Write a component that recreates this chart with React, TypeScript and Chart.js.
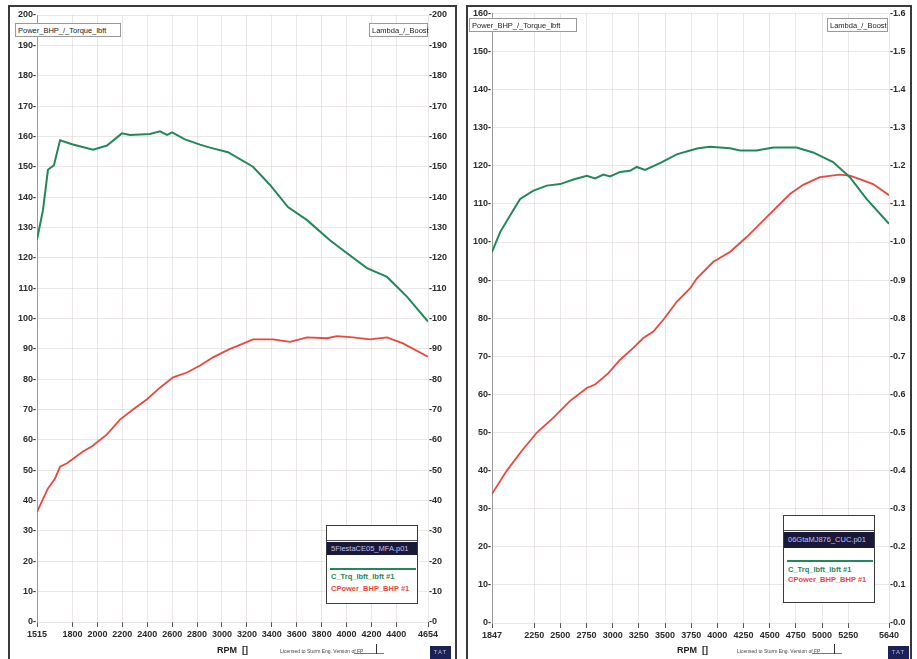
import React, { useEffect, useRef } from "react";
import { Chart, registerables } from "chart.js";
Chart.register(...registerables);

const FONT = "'Liberation Sans', Arial, sans-serif";
const GREEN = "#22885a";
const RED = "#e8483f";
const GRID = "rgba(195,180,180,0.32)";
const TXT = "#2a2a2a";

// ---------- Left chart (Fiesta) ----------
const leftXTicks = [1515, 1800, 2000, 2200, 2400, 2600, 2800, 3000, 3200, 3400, 3600, 3800, 4000, 4200, 4400, 4654];
const leftYTicks = [0, 10, 20, 30, 40, 50, 60, 70, 80, 90, 100, 110, 120, 130, 140, 150, 160, 170, 180, 190, 200];
const leftYLabels = ["0", "10", "20", "30", "40", "50", "60", "70", "80", "90", "100", "110", "120", "130", "140", "150", "160", "170", "180", "190", "200"];
const leftRightLabels = ["0", "10", "20", "30", "40", "50", "60", "70", "80", "90", "100", "110", "120", "130", "140", "150", "160", "170", "180", "190", "200"];
const leftTorqueRpm = [1515, 1563, 1603, 1651, 1700, 1796, 1965, 2077, 2197, 2262, 2422, 2502, 2559, 2599, 2703, 2824, 2904, 3048, 3249, 3386, 3530, 3683, 3867, 4004, 4164, 4325, 4485, 4654];
const leftTorque = [126, 135.7, 149, 150.5, 158.7, 157.4, 155.6, 157, 161, 160.5, 160.8, 161.7, 160.5, 161.3, 159, 157.3, 156.3, 154.8, 150, 144, 136.7, 132.4, 125.8, 121.5, 116.6, 113.7, 107.2, 99];
const leftPowerRpm = [1515, 1603, 1660, 1700, 1756, 1884, 1957, 2077, 2181, 2286, 2398, 2502, 2607, 2719, 2824, 2928, 3064, 3121, 3249, 3410, 3546, 3683, 3843, 3923, 4052, 4188, 4325, 4453, 4654];
const leftPower = [36.3, 44, 47.3, 51.2, 52.3, 56.2, 57.9, 61.8, 66.7, 70, 73.4, 77.2, 80.6, 82.2, 84.5, 87.2, 90, 90.9, 93.1, 93.1, 92.3, 93.8, 93.5, 94.2, 93.8, 93.1, 93.8, 91.8, 87.4];

// ---------- Right chart ----------
const rightXTicks = [1847, 2250, 2500, 2750, 3000, 3250, 3500, 3750, 4000, 4250, 4500, 4750, 5000, 5250, 5640];
const rightYTicks = [0, 10, 20, 30, 40, 50, 60, 70, 80, 90, 100, 110, 120, 130, 140, 150, 160];
const rightYLabels = ["0", "10", "20", "30", "40", "50", "60", "70", "80", "90", "100", "110", "120", "130", "140", "150", "160"];
const rightRightLabels = ["0.0", "0.1", "0.2", "0.3", "0.4", "0.5", "0.6", "0.7", "0.8", "0.9", "1.0", "1.1", "1.2", "1.3", "1.4", "1.5", "1.6"];
const rightTorqueRpm = [1847, 1925, 2021, 2116, 2243, 2371, 2498, 2625, 2753, 2832, 2911, 2975, 3071, 3166, 3230, 3309, 3452, 3612, 3739, 3818, 3930, 4120, 4216, 4375, 4534, 4757, 4915, 5106, 5266, 5425, 5640];
const rightTorque = [97.4, 102.6, 107, 111.3, 113.5, 114.8, 115.2, 116.4, 117.4, 116.7, 117.7, 117.2, 118.4, 118.7, 119.7, 118.9, 120.7, 123, 124, 124.6, 125, 124.6, 124, 124, 124.8, 124.8, 123.5, 121, 117, 111.3, 104.8];
const rightPowerRpm = [1847, 1989, 2132, 2276, 2434, 2593, 2753, 2832, 2959, 3071, 3197, 3293, 3388, 3484, 3612, 3739, 3803, 3961, 4120, 4280, 4471, 4693, 4820, 4979, 5170, 5266, 5361, 5488, 5640];
const rightPower = [33.9, 40, 45.2, 50, 53.9, 58.3, 61.7, 62.6, 65.6, 69.1, 72.2, 74.8, 76.5, 79.6, 84.3, 87.8, 90.4, 94.8, 97.4, 101.3, 106.5, 112.6, 115, 117, 117.7, 117.4, 116.5, 115.2, 112.3];

type PanelCfg = {
  xTicks: number[];
  yTicks: number[];
  yLabels: string[];
  rLabels: string[];
  yMax: number;
  tRpm: number[];
  t: number[];
  pRpm: number[];
  p: number[];
  padTop: number;
  xAxisH: number;
  leftW: number;
  rightW: number;
  width: number;
  height: number;
};

function makeConfig(c: PanelCfg): any {
  const font = { family: FONT, size: 9, weight: "bold" as const };
  return {
    type: "line",
    data: {
      datasets: [
        {
          label: "C_Trq_lbft_lbft #1",
          data: c.tRpm.map((x, i) => ({ x, y: c.t[i] })),
          borderColor: GREEN,
          borderWidth: 2,
          pointRadius: 0,
          tension: 0,
          yAxisID: "y",
        },
        {
          label: "CPower_BHP_BHP #1",
          data: c.pRpm.map((x, i) => ({ x, y: c.p[i] })),
          borderColor: RED,
          borderWidth: 1.8,
          pointRadius: 0,
          tension: 0,
          yAxisID: "y",
        },
      ],
    },
    options: {
      responsive: false,
      animation: false,
      devicePixelRatio: 1,
      layout: { padding: { top: c.padTop, left: 0, right: 0, bottom: 0 } },
      plugins: { legend: { display: false }, tooltip: { enabled: false }, title: { display: false } },
      scales: {
        x: {
          type: "linear",
          min: c.xTicks[0],
          max: c.xTicks[c.xTicks.length - 1],
          afterBuildTicks: (s: any) => {
            s.ticks = c.xTicks.map((v) => ({ value: v }));
          },
          afterFit: (s: any) => {
            s.height = c.xAxisH;
          },
          ticks: { autoSkip: false, maxRotation: 0, padding: 2, font, color: TXT, callback: (v: any) => String(v) },
          grid: { color: GRID, drawTicks: true, tickLength: 5, tickColor: "#555", tickWidth: 1 },
          border: { display: false },
        },
        y: {
          position: "left",
          min: 0,
          max: c.yMax,
          afterBuildTicks: (s: any) => {
            s.ticks = c.yTicks.map((v) => ({ value: v }));
          },
          afterFit: (s: any) => {
            s.width = c.leftW;
          },
          ticks: {
            padding: 1,
            font,
            color: TXT,
            callback: (v: any, i: number) => c.yLabels[i] + "-",
          },
          grid: { color: GRID, drawTicks: false },
          border: { display: true, color: "#9a9a9a", width: 1 },
        },
        y1: {
          position: "right",
          min: 0,
          max: c.yMax,
          afterBuildTicks: (s: any) => {
            s.ticks = c.yTicks.map((v) => ({ value: v }));
          },
          afterFit: (s: any) => {
            s.width = c.rightW;
          },
          ticks: {
            padding: 1,
            font,
            color: TXT,
            callback: (v: any, i: number) => "-" + c.rLabels[i],
          },
          grid: { display: false, drawTicks: false },
          border: { display: false },
        },
      },
    },
  };
}

function ChartCanvas(props: { cfg: PanelCfg; left: number; top: number }) {
  const ref = useRef<HTMLCanvasElement | null>(null);
  useEffect(() => {
    if (!ref.current) return;
    const ch = new Chart(ref.current, makeConfig(props.cfg));
    return () => ch.destroy();
  }, []);
  return (
    <canvas
      ref={ref}
      width={props.cfg.width}
      height={props.cfg.height}
      style={{ position: "absolute", left: props.left, top: props.top, width: props.cfg.width, height: props.cfg.height }}
    />
  );
}

const abs = (o: React.CSSProperties): React.CSSProperties => ({ position: "absolute", ...o });

function HeaderBox(props: { left: number; top: number; width: number; text: string }) {
  return (
    <div
      style={abs({
        left: props.left,
        top: props.top,
        width: props.width,
        height: 14,
        border: "1px solid #9a9a9a",
        background: "#fff",
        fontFamily: FONT,
        fontSize: 7.5,
        lineHeight: "13px",
        color: "#222",
        paddingLeft: 2,
        boxSizing: "border-box",
        whiteSpace: "nowrap",
      })}
    >
      {props.text}
    </div>
  );
}

function LegendBox(props: { left: number; top: number; height: number; file: string; barH: number; lineY: number; gY: number; rY: number }) {
  return (
    <div
      style={abs({
        left: props.left,
        top: props.top,
        width: 92,
        height: props.height,
        border: "1.5px solid #3a3a3a",
        background: "#fff",
        boxSizing: "border-box",
        fontFamily: FONT,
      })}
    >
      <div style={abs({ left: 0, right: 0, top: 14, height: 1, background: "#555" })} />
      <div
        style={abs({
          left: 0,
          right: 0,
          top: 16,
          height: props.barH,
          background: "#191838",
          color: "#c4c2e8",
          fontSize: 7.5,
          lineHeight: props.barH + "px",
          paddingLeft: 4,
          whiteSpace: "nowrap",
          overflow: "hidden",
        })}
      >
        {props.file}
      </div>
      <div style={abs({ left: 3, right: 1, top: props.lineY, height: 2, background: GREEN })} />
      <div style={abs({ left: 4, top: props.gY - 5, fontSize: 7.5, lineHeight: "10px", color: GREEN, fontWeight: "bold", whiteSpace: "nowrap" })}>
        C_Trq_lbft_lbft #1
      </div>
      <div style={abs({ left: 4, top: props.rY - 5, fontSize: 7.5, lineHeight: "10px", color: RED, fontWeight: "bold", whiteSpace: "nowrap" })}>
        CPower_BHP_BHP #1
      </div>
    </div>
  );
}

function Footer(props: { rpmLeft: number; licLeft: number; boxLeft: number; tatLeft: number }) {
  return (
    <>
      <div style={abs({ left: props.rpmLeft, top: 645, fontFamily: FONT, fontSize: 9, fontWeight: "bold", color: "#222", whiteSpace: "nowrap" })}>
        RPM&nbsp;&nbsp;[]
      </div>
      <div style={abs({ left: props.licLeft, top: 648, fontFamily: FONT, fontSize: 5, color: "#444", whiteSpace: "nowrap" })}>
        Licensed to Sturm Eng. Version of FP
      </div>
      <div style={abs({ left: props.boxLeft, top: 653, width: 30, height: 1, background: "#777" })} />
      <div style={abs({ left: props.boxLeft + 22, top: 644, width: 1, height: 10, background: "#333" })} />
      <div
        style={abs({
          left: props.tatLeft,
          top: 646,
          width: 21,
          height: 13,
          background: "#1c2158",
          color: "#b8bce0",
          fontFamily: FONT,
          fontSize: 6,
          lineHeight: "13px",
          textAlign: "center",
          letterSpacing: 1,
        })}
      >
        TAT
      </div>
    </>
  );
}

const leftCfg: PanelCfg = {
  xTicks: leftXTicks,
  yTicks: leftYTicks,
  yLabels: leftYLabels,
  rLabels: leftRightLabels,
  yMax: 200,
  tRpm: leftTorqueRpm,
  t: leftTorque,
  pRpm: leftPowerRpm,
  p: leftPower,
  padTop: 8,
  xAxisH: 37,
  leftW: 27,
  rightW: 26,
  width: 444,
  height: 652,
};

const rightCfg: PanelCfg = {
  xTicks: rightXTicks,
  yTicks: rightYTicks,
  yLabels: rightYLabels,
  rLabels: rightRightLabels,
  yMax: 160,
  tRpm: rightTorqueRpm,
  t: rightTorque,
  pRpm: rightPowerRpm,
  p: rightPower,
  padTop: 3,
  xAxisH: 36,
  leftW: 24,
  rightW: 21,
  width: 442,
  height: 652,
};

export default function App() {
  return (
    <div style={{ position: "fixed", left: 0, top: 0, width: 917, height: 659, background: "#fff", overflow: "hidden" }}>
      <ChartCanvas cfg={leftCfg} left={10} top={7} />
      <ChartCanvas cfg={rightCfg} left={468} top={7} />

      {/* panel frames */}
      <div style={abs({ left: 8, top: 5, width: 449, height: 660, borderLeft: "2px solid #3a3a3a", borderTop: "2px solid #3a3a3a", borderRight: "2px solid #3a3a3a", boxSizing: "border-box", pointerEvents: "none" })} />
      <div style={abs({ left: 466, top: 5, width: 446, height: 660, borderLeft: "2px solid #3a3a3a", borderTop: "2px solid #3a3a3a", borderRight: "2px solid #3a3a3a", boxSizing: "border-box", pointerEvents: "none" })} />

      <HeaderBox left={15} top={23} width={106} text="Power_BHP_/_Torque_lbft" />
      <HeaderBox left={369} top={23} width={59} text="Lambda_/_Boost" />
      <HeaderBox left={469} top={18} width={108} text="Power_BHP_/_Torque_lbft" />
      <HeaderBox left={827} top={18} width={61} text="Lambda_/_Boost" />

      <LegendBox left={326} top={525} height={79} file="5FiestaCE05_MFA.p01" barH={13} lineY={42} gY={51} rY={63} />
      <LegendBox left={783} top={515} height={88} file="06GtaMJ876_CUC.p01" barH={16} lineY={44} gY={54} rY={64} />

      <Footer rpmLeft={217} licLeft={280} boxLeft={354} tatLeft={430} />
      <Footer rpmLeft={677} licLeft={737} boxLeft={812} tatLeft={888} />
    </div>
  );
}
